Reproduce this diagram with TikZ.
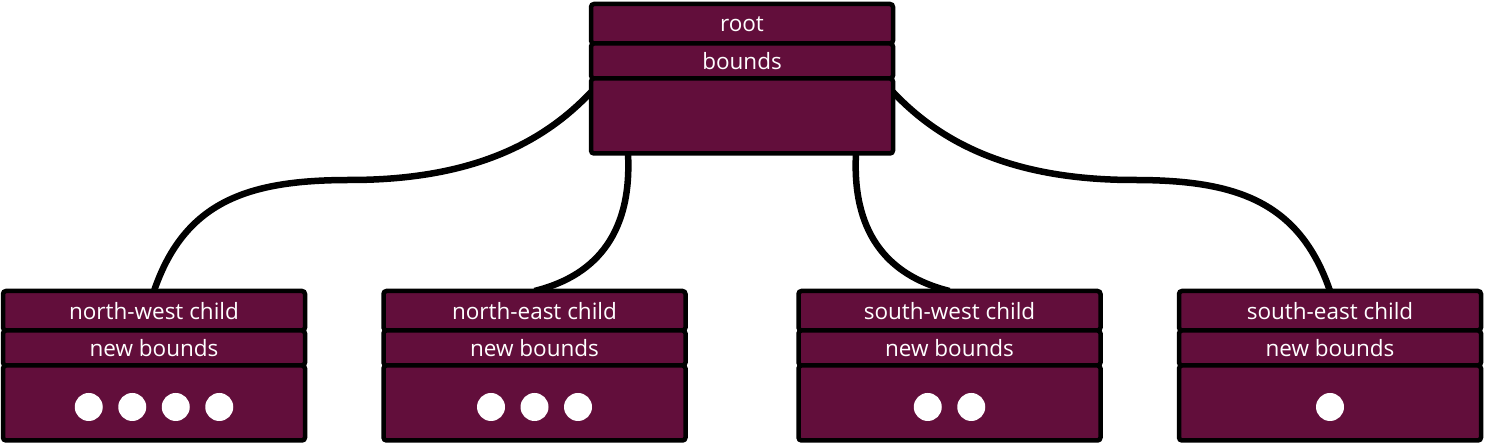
\documentclass[tikz,border=0pt]{standalone}
\usepackage{fontspec}
\setmainfont{Open Sans}
\usetikzlibrary{positioning,backgrounds}
\definecolor{wine}{HTML}{620E3B}
\begin{document}
\begin{tikzpicture}[node distance=0pt,
	cell/.style = {draw=black, fill=wine, line width=4.5pt, rounded corners=3pt, outer sep=0pt, inner sep=0pt,
		minimum width=302pt, text=white, font=\fontsize{22.5}{22.5}\selectfont},
	title/.style = {cell, minimum height=39.5pt},
	bounds/.style = {cell, minimum height=35pt},
	body/.style = {cell, minimum height=75pt},
	wire/.style = {draw=black, line width=6.5pt}]
	\useasboundingbox (0,0) rectangle (1485pt,443pt);
	\node[title] (roottitle) at (742pt,419.25pt) {root};
	\node[bounds] (rootbounds) [below=of roottitle] {bounds};
	\node[body] (rootbody) [below=of rootbounds] {};
	\node[title] (nwtitle) at (154pt,132.25pt) {north-west child};
	\node[bounds] (nwbounds) [below=of nwtitle] {new bounds};
	\node[body] (nwbody) [below=of nwbounds] {};
	\node[title] (netitle) at (534.5pt,132.25pt) {north-east child};
	\node[bounds] (nebounds) [below=of netitle] {new bounds};
	\node[body] (nebody) [below=of nebounds] {};
	\node[title] (swtitle) at (949.5pt,132.25pt) {south-west child};
	\node[bounds] (swbounds) [below=of swtitle] {new bounds};
	\node[body] (swbody) [below=of swbounds] {};
	\node[title] (setitle) at (1330pt,132.25pt) {south-east child};
	\node[bounds] (sebounds) [below=of setitle] {new bounds};
	\node[body] (sebody) [below=of sebounds] {};
	\foreach \name/\n in {nw/4, ne/3, sw/2, se/1}
		\foreach \k in {1,...,\n}
			\fill[white] ([xshift={(\k-(\n+1)/2)*43.5pt}, yshift=-4pt]\name body.center) circle (14pt);
	\begin{scope}[on background layer]
		\coordinate (nwbend) at (350pt,263pt);
		\coordinate (sebend) at (1134pt,263pt);
		\draw[wire] (nwtitle.north) .. controls +(31pt,91pt) and +(-100pt,0pt) .. (nwbend)
			.. controls +(120pt,0pt) and +(-49pt,-52pt) .. (rootbody.171);
		\draw[wire] (setitle.north) .. controls +(-31pt,91pt) and +(100pt,0pt) .. (sebend)
			.. controls +(-120pt,0pt) and +(49pt,-52pt) .. (rootbody.9);
		\draw[wire] ([xshift=37pt]rootbody.south west) .. controls +(4pt,-76pt) and +(65pt,16pt) .. (netitle.north);
		\draw[wire] ([xshift=-37pt]rootbody.south east) .. controls +(-4pt,-76pt) and +(-65pt,16pt) .. (swtitle.north);
	\end{scope}
\end{tikzpicture}
\end{document}
